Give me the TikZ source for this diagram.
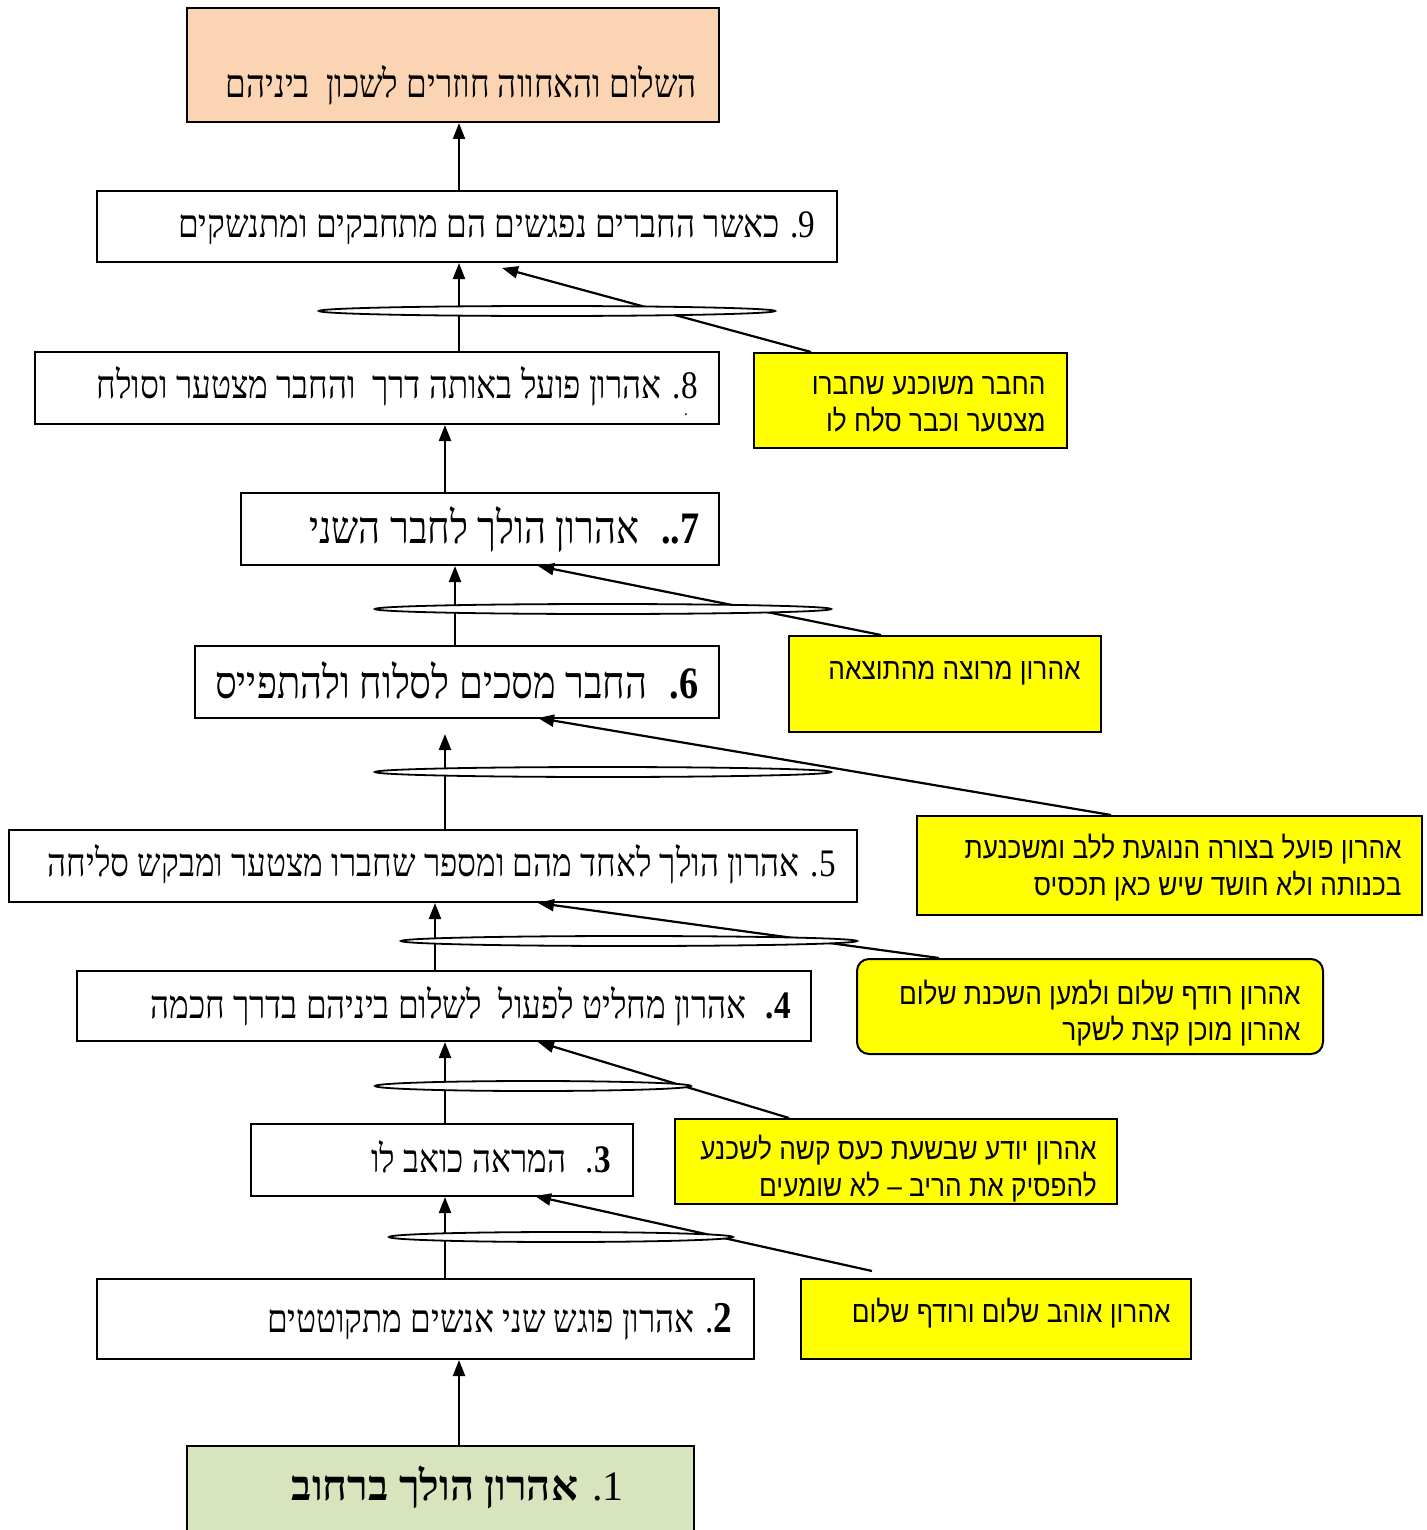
\documentclass[tikz,border=0pt]{standalone}
\usepackage{fontspec}
\usetikzlibrary{arrows.meta,shapes.geometric,fit,calc}
\TeXXeTstate=1
\newfontfamily\hebserif[Script=Hebrew,FakeStretch=0.85]{Liberation Serif}
\newfontfamily\hebwide[Script=Hebrew]{Liberation Serif}
\newfontfamily\hebsans[Script=Hebrew,FakeStretch=0.875]{Liberation Sans}
\definecolor{peach}{HTML}{FBD4B4}
\definecolor{sage}{HTML}{D7E4BD}
\definecolor{yel}{HTML}{FFFF00}
\tikzset{
  box/.style={draw, line width=1pt, rectangle, inner sep=0pt},
  ybox/.style={box, fill=yel},
  txt/.style={anchor=base east, inner sep=0pt, font=\hebserif\fontsize{19.5}{22}\selectfont},
  bigtxt/.style={txt, font=\hebserif\fontsize{22.5}{25}\selectfont},
  ytxt/.style={anchor=base east, inner sep=0pt, font=\hebsans\fontsize{15}{18}\selectfont},
  arr/.style={-{Triangle[length=8pt,width=6pt]}, line width=1.1pt},
  ell/.style={ellipse, draw, fill=white, inner sep=0pt, line width=0.9pt, minimum height=5pt}
}
\begin{document}
\begin{tikzpicture}[x=0.5pt,y=-0.5pt]
\useasboundingbox (0,0) rectangle (1426,1530);
% main boxes
\node[box, fill=peach, fit={(187,8) (719,122)}] (top) {};
\node[box, fit={(97,191) (837,262)}] (b9) {};
\node[box, fit={(35,352) (719,424)}] (b8) {};
\node[box, fit={(241,493) (719,565)}] (b7) {};
\node[box, fit={(195,646) (719,718)}] (b6) {};
\node[box, fit={(9,830) (857,902)}] (b5) {};
\node[box, fit={(77,971) (811,1041)}] (b4) {};
\node[box, fit={(251,1124) (633,1196)}] (b3) {};
\node[box, fit={(97,1279) (754,1359)}] (b2) {};
\node[box, fill=sage, fit={(187,1446) (694,1545)}] (b1) {};
% yellow boxes
\node[ybox, fit={(754,353) (1067,448)}] (y9) {};
\node[ybox, fit={(789,636) (1101,732)}] (y7) {};
\node[ybox, fit={(917,816) (1422,915)}] (y6) {};
\node[ybox, rounded corners=6pt, fit={(857,959) (1323,1054)}] (y5) {};
\node[ybox, fit={(675,1119) (1117,1204)}] (y4) {};
\node[ybox, fit={(801,1279) (1191,1359)}] (y3) {};
% texts of main boxes
\node[txt] (ttop) at (697,98) {\beginR השלום והאחווה חוזרים לשכון \ ביניהם\endR};
\node[txt] (t9) at (816,237) {\beginR 9. כאשר החברים נפגשים הם מתחבקים ומתנשקים\endR};
\node[txt] (t8) at (698,398) {\beginR 8. אהרון פועל באותה דרך \ והחבר מצטער וסולח\endR};
\node[inner sep=0pt, font=\hebserif\fontsize{9}{9}\selectfont] (dot8) at (686,415) {.};
\node[bigtxt] (t7) at (700,543) {\beginR\textbf{7..} \ אהרון הולך לחבר השני\endR};
\node[bigtxt] (t6) at (699,698) {\beginR\textbf{6.} \ החבר מסכים לסלוח ולהתפייס\endR};
\node[txt] (t5) at (836,876) {\beginR 5. אהרון הולך לאחד מהם ומספר שחברו מצטער ומבקש סליחה\endR};
\node[txt] (t4) at (791,1018) {\beginR\textbf{4.} \ אהרון מחליט לפעול \ לשלום ביניהם בדרך חכמה\endR};
\node[txt] (t3) at (611,1172) {\beginR\textbf{3}. \ המראה כואב לו\endR};
\node[txt] (t2) at (733,1332) {\beginR{\bfseries\fontsize{22}{24}\selectfont 2}. אהרון פוגש שני אנשים מתקוטטים\endR};
\node[txt, font=\hebwide\fontsize{21}{24}\selectfont] (t1) at (624,1500) {\beginR 1. \textbf{אהרון הולך ברחוב}\endR};
% texts of yellow boxes
\node[ytxt] (ty9a) at (1046,394) {\beginR החבר משוכנע שחברו\endR};
\node[ytxt] (ty9b) at (1046,431) {\beginR מצטער וכבר סלח לו\endR};
\node[ytxt] (ty7) at (1081,679) {\beginR אהרון מרוצה מהתוצאה\endR};
\node[ytxt] (ty6a) at (1402,858) {\beginR אהרון פועל בצורה הנוגעת ללב ומשכנעת\endR};
\node[ytxt] (ty6b) at (1402,895) {\beginR בכנותה ולא חושד שיש כאן תכסיס\endR};
\node[ytxt] (ty5a) at (1301,1004) {\beginR אהרון רודף שלום ולמען השכנת שלום\endR};
\node[ytxt] (ty5b) at (1301,1040) {\beginR אהרון מוכן קצת לשקר\endR};
\node[ytxt] (ty4a) at (1097,1159) {\beginR אהרון יודע שבשעת כעס קשה לשכנע\endR};
\node[ytxt] (ty4b) at (1097,1196) {\beginR להפסיק את הריב – לא שומעים\endR};
\node[ytxt] (ty3) at (1171,1322) {\beginR אהרון אוהב שלום ורודף שלום\endR};
% columns
\coordinate (c459) at (459,0);
\coordinate (c445) at (445,0);
\coordinate (c435) at (435,0);
\coordinate (c455) at (455,0);
% vertical chain
\draw[arr] (b1.north -| c459) -- (b2.south -| c459);
\draw[arr] (b2.north -| c445) -- (b3.south -| c445);
\draw[arr] (b3.north -| c445) -- (b4.south -| c445);
\draw[arr] (b4.north -| c435) -- (b5.south -| c435);
\draw[arr] (b5.north -| c445) -- ($(b6.south -| c445)+(0,15)$);
\draw[arr] (b6.north -| c455) -- (b7.south -| c455);
\draw[arr] (b7.north -| c445) -- (b8.south -| c445);
\draw[arr] (b8.north -| c459) -- (b9.south -| c459);
\draw[arr] (b9.north -| c459) -- (top.south -| c459);
% diagonal connectors
\coordinate (s9) at ($(y9.north west)+(58,0)$);
\coordinate (s7) at ($(y7.north west)+(93,0)$);
\coordinate (s6) at ($(y6.north west)+(195,0)$);
\coordinate (s5) at ($(y5.north west)+(83,0)$);
\coordinate (s4) at ($(y4.north west)+(115,0)$);
\coordinate (s3) at ($(y3.north west)+(72,-7)$);
\coordinate (e9) at (502,268);
\coordinate (e7) at (538,566);
\coordinate (e6) at (538,718);
\coordinate (e5) at (538,903);
\coordinate (e4) at (538,1042);
\coordinate (e3) at (535,1196);
\draw[arr] (s9) -- (e9);
\draw[arr] (s7) -- (e7);
\draw[arr] (s6) -- (e6);
\draw[arr] (s5) -- (e5);
\draw[arr] (s4) -- (e4);
\draw[arr] (s3) -- (e3);
% ellipses
\node[ell, minimum width=228pt] (el89) at (547,311) {};
\node[ell, minimum width=228pt] (el67) at (603,609) {};
\node[ell, minimum width=228pt] (el56) at (603,772) {};
\node[ell, minimum width=228pt] (el45) at (629,941) {};
\node[ell, minimum width=158pt] (el34) at (533,1086) {};
\node[ell, minimum width=172pt] (el23) at (561,1237) {};
\end{tikzpicture}
\end{document}
